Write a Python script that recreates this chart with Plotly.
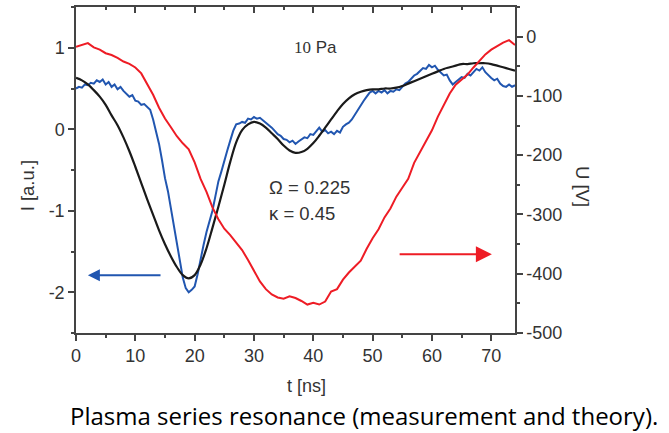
import numpy as np
import plotly.graph_objects as go

# ---- data ----
t_meas = np.arange(0, 74.01, 0.5)           # measured current time grid [ns]
i_meas = [
    0.50, 0.52, 0.51, 0.55, 0.54, 0.57, 0.56, 0.60, 0.58, 0.61,
    0.55, 0.58, 0.52, 0.55, 0.49, 0.52, 0.47, 0.44, 0.40, 0.42,
    0.35, 0.34, 0.30, 0.31, 0.27, 0.24, 0.12, -0.02, -0.18, -0.38,
    -0.60, -0.76, -0.97, -1.18, -1.38, -1.58, -1.82, -1.95, -2.00, -1.97,
    -1.93, -1.78, -1.58, -1.42, -1.26, -1.12, -1.00, -0.82, -0.64, -0.52,
    -0.38, -0.26, -0.14, -0.02, 0.06, 0.07, 0.09, 0.08, 0.13, 0.12,
    0.15, 0.13, 0.14, 0.11, 0.09, 0.05, 0.02, -0.02, -0.06, -0.08,
    -0.12, -0.13, -0.16, -0.14, -0.18, -0.15, -0.13, -0.10, -0.11, -0.06,
    -0.07, -0.02, 0.02, -0.03, -0.01, -0.05, -0.03, -0.06, -0.02, -0.04,
    0.03, 0.06, 0.08, 0.12, 0.18, 0.24, 0.30, 0.35, 0.40, 0.45,
    0.47, 0.44, 0.47, 0.45, 0.48, 0.44, 0.47, 0.46, 0.49, 0.48,
    0.52, 0.56, 0.58, 0.62, 0.66, 0.68, 0.72, 0.75, 0.74, 0.79,
    0.76, 0.78, 0.73, 0.70, 0.66, 0.67, 0.60, 0.55, 0.58, 0.62,
    0.64, 0.63, 0.68, 0.66, 0.70, 0.74, 0.72, 0.76, 0.70, 0.66,
    0.63, 0.60, 0.62, 0.56, 0.53, 0.52, 0.55, 0.52, 0.54,
]

t_1ns = np.arange(0, 75, 1)                  # 1 ns grid [ns]
i_theory = [
    0.63, 0.60, 0.55, 0.48, 0.40, 0.30, 0.17, 0.05, -0.10, -0.27,
    -0.46, -0.66, -0.86, -1.05, -1.24, -1.41, -1.56, -1.69, -1.79, -1.83,
    -1.79, -1.66, -1.46, -1.21, -0.95, -0.68, -0.40, -0.16, -0.01, 0.06,
    0.09, 0.07, 0.02, -0.05, -0.12, -0.20, -0.26, -0.29, -0.28, -0.24,
    -0.17, -0.08, 0.02, 0.12, 0.22, 0.31, 0.38, 0.43, 0.46, 0.48,
    0.49, 0.49, 0.50, 0.50, 0.51, 0.53, 0.56, 0.59, 0.62, 0.65,
    0.68, 0.71, 0.74, 0.76, 0.78, 0.80, 0.80, 0.81, 0.81, 0.81,
    0.80, 0.78, 0.76, 0.74, 0.72,
]
u_volt = [
    -17, -14, -11, -18, -22, -28, -31, -36, -42, -46,
    -52, -62, -80, -98, -120, -138, -153, -168, -180, -190,
    -212, -240, -262, -288, -308, -324, -335, -348, -360, -377,
    -396, -413, -426, -435, -440, -442, -438, -441, -446, -452,
    -449, -452, -447, -430, -426, -410, -398, -388, -378, -358,
    -340, -325, -305, -290, -270, -255, -240, -213, -195, -177,
    -158, -135, -115, -96, -81, -72, -64, -52, -40, -30,
    -22, -16, -10, -6, -14,
]

x_ticks = [0, 10, 20, 30, 40, 50, 60, 70]
yl_ticks = [-2, -1, 0, 1]
yl_text = ["-2", "-1", "0", "1"]
yr_ticks = [-500, -400, -300, -200, -100, 0]
yr_text = ["-500", "-400", "-300", "-200", "-100", "0"]

BLUE = "#2156b0"
RED = "#ee1c25"
BLACK = "#1a1a1a"
AX = "#444444"
TXT = "#333333"
FONT = "Liberation Sans, Arial, sans-serif"

fig = go.Figure()
fig.add_trace(go.Scatter(x=t_1ns, y=u_volt, yaxis="y2", mode="lines",
                         line=dict(color=RED, width=2), showlegend=False))
fig.add_trace(go.Scatter(x=t_meas, y=i_meas, mode="lines",
                         line=dict(color=BLUE, width=2), showlegend=False))
fig.add_trace(go.Scatter(x=t_1ns, y=i_theory, mode="lines",
                         line=dict(color=BLACK, width=2.2, shape="spline"),
                         showlegend=False))

common = dict(showline=True, linecolor=AX, linewidth=1.5, showgrid=False,
              zeroline=False, tickcolor=AX, tickwidth=1.5, ticklen=6,
              tickfont=dict(family=FONT, size=18, color=TXT))

fig.update_layout(
    width=669, height=433,
    margin=dict(l=76, r=154, t=7, b=100),
    plot_bgcolor="white", paper_bgcolor="white",
    xaxis=dict(range=[0, 74], tickvals=x_ticks, ticks="outside",
               minor=dict(ticks="outside", ticklen=3, tickcolor=AX, tick0=0, dtick=5),
               **common),
    xaxis2=dict(range=[0, 74], overlaying="x", side="top", tickvals=x_ticks,
                ticks="inside", showticklabels=False,
                minor=dict(ticks="inside", ticklen=3, tickcolor=AX, tick0=0, dtick=5),
                **common),
    yaxis=dict(range=[-2.5, 1.5], tickvals=yl_ticks, ticktext=yl_text, ticks="outside",
               minor=dict(ticks="outside", ticklen=3, tickcolor=AX, tick0=0, dtick=0.5),
               **common),
    yaxis2=dict(range=[-500, 50], overlaying="y", side="right", tickvals=yr_ticks,
                ticktext=yr_text, ticks="outside",
                minor=dict(ticks="outside", ticklen=3, tickcolor=AX, tick0=0, dtick=50),
                **common),
)
# invisible trace to activate the top axis
fig.add_trace(go.Scatter(x=[0], y=[0], xaxis="x2", mode="markers",
                         marker=dict(opacity=0), showlegend=False, hoverinfo="skip"))

anns = [
    dict(x=-0.14, y=0.45, xref="paper", yref="paper", text="I [a.u.]", textangle=-90,
         showarrow=False, font=dict(family=FONT, size=18.5, color=TXT)),
    dict(x=1.182, y=0.45, xref="paper", yref="paper", text="U [V]", textangle=90,
         showarrow=False, font=dict(family=FONT, size=18.5, color=TXT)),
    dict(x=0.524, y=-0.20, xref="paper", yref="paper", text="t [ns]",
         showarrow=False, font=dict(family=FONT, size=18, color=TXT)),
    dict(x=0.656, y=-0.311, xref="paper", yref="paper",
         text="Plasma series resonance (measurement and theory).",
         showarrow=False, xanchor="center",
         font=dict(family="Open Sans, sans-serif", size=24, color="black")),
    dict(x=40.3, y=1.0, xref="x", yref="y",
         text='<span style="font-family:Liberation Serif">10</span> Pa',
         showarrow=False, font=dict(family=FONT, size=17, color=TXT)),
    dict(x=32.2, y=-0.72, xref="x", yref="y", text="Ω = 0.225", xanchor="left",
         showarrow=False, font=dict(family=FONT, size=18.5, color=TXT)),
    dict(x=32.2, y=-1.03, xref="x", yref="y", text="κ = 0.45", xanchor="left",
         showarrow=False, font=dict(family=FONT, size=18.5, color=TXT)),
    dict(x=2.0, y=-1.79, ax=14.5, ay=-1.79, xref="x", yref="y", axref="x", ayref="y",
         text="", showarrow=True, arrowhead=2, arrowsize=1.2, arrowwidth=2,
         arrowcolor=BLUE),
    dict(x=70.1, y=-367, ax=54.3, ay=-367, xref="x", yref="y2", axref="x", ayref="y2",
         text="", showarrow=True, arrowhead=2, arrowsize=1.6, arrowwidth=2,
         arrowcolor=RED),
]
fig.update_layout(annotations=anns)

fig.write_html("out.html", config={"displayModeBar": False},
               post_script="document.body.style.margin='0px';")
